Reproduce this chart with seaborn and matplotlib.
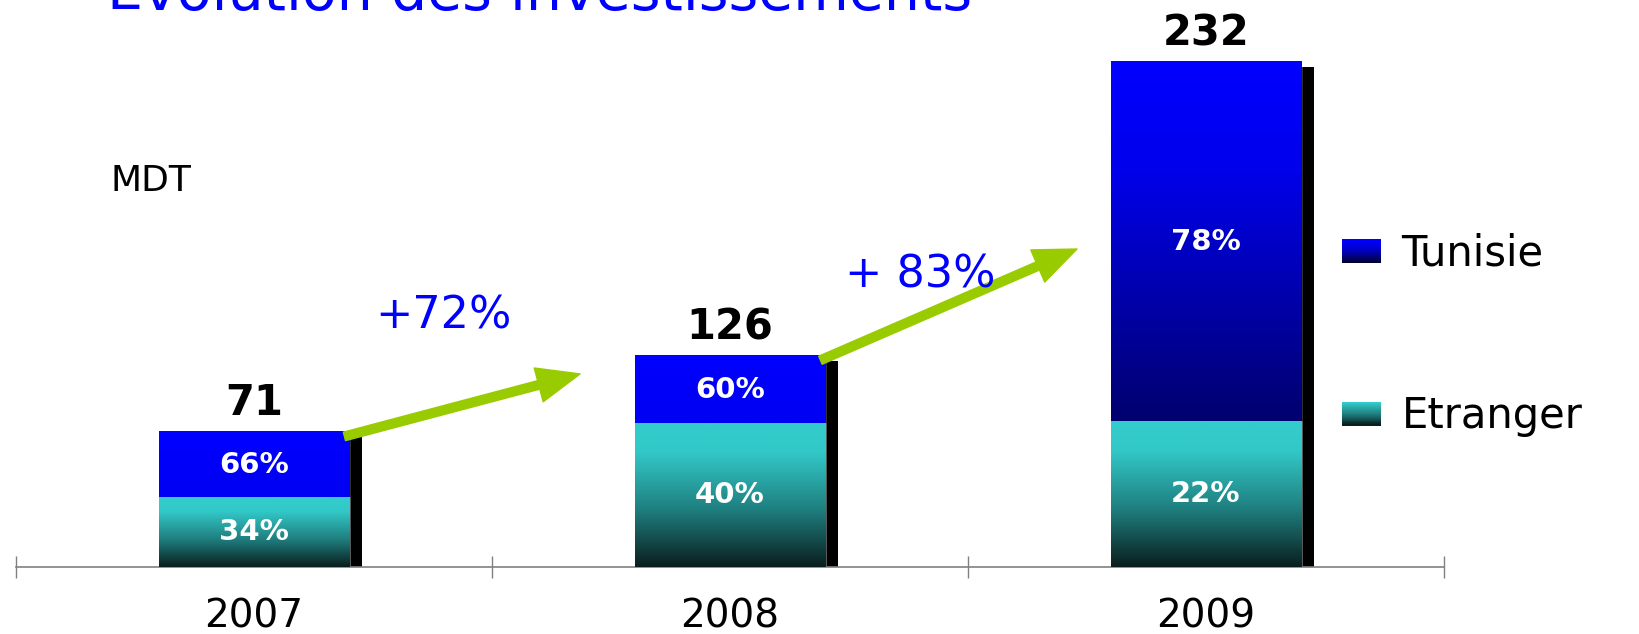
import numpy as np
import matplotlib
matplotlib.use("Agg")
import matplotlib.pyplot as plt
import matplotlib.patheffects as pe
from matplotlib.colors import LinearSegmentedColormap
from matplotlib.legend_handler import HandlerBase
from matplotlib.patches import Patch, Rectangle
import seaborn as sns

# ====================== data ======================

years = ["2007", "2008", "2009"]
total_labels = ["71", "126", "232"]
tunisie_pct = ["66%", "60%", "78%"]
etranger_pct = ["34%", "40%", "22%"]
growth_labels = ["+72%", "+ 83%"]

# the slide is not drawn to scale: heights as drawn (2009 top = 232)
etranger_h = [32, 66, 67]
tunisie_h = [30, 31, 165]
totals = [e + t for e, t in zip(etranger_h, tunisie_h)]

# ====================== style ======================

sns.set_style("white")
plt.rcParams['font.family'] = ['DejaVu Sans']

BLUE_TXT = "#0000FF"
GREEN = "#99CC00"
GREY = "#808080"

cmap_tun = LinearSegmentedColormap.from_list(
    "tun", [(0, "#0000FF"), (0.3, "#0000EB"), (1, "#00006E")])
cmap_etr = LinearSegmentedColormap.from_list(
    "etr", [(0, "#33CCCC"), (0.2, "#33C8C8"), (0.6, "#1F7F7F"), (1, "#0A1E1E")])
cmap_tun_leg = LinearSegmentedColormap.from_list("tl", ["#0000FF", "#0000C0", "#000030"])
cmap_etr_leg = LinearSegmentedColormap.from_list("el", ["#33CCCC", "#1F7F7F", "#0A1E1E"])


class GradientHandler(HandlerBase):
    def __init__(self, cmap):
        super().__init__()
        self.cmap = cmap

    def create_artists(self, legend, orig_handle, xdescent, ydescent,
                       width, height, fontsize, trans):
        n = 24
        arts = []
        for k in range(n):
            y = -ydescent + height * (1 - (k + 1) / n)
            arts.append(Rectangle((-xdescent, y), width, height / n * 1.05,
                                  facecolor=self.cmap(k / (n - 1)),
                                  edgecolor="none", antialiased=False,
                                  transform=trans))
        return arts


# ====================== figure ======================

fig = plt.figure(figsize=(16.4, 6.34), dpi=100)
ax = fig.add_axes([16 / 1640, 1 - 567 / 634, 1428 / 1640, 567 / 634])

sns.barplot(x=years, y=totals, color="#0000FF", width=0.4, saturation=1,
            ax=ax, zorder=2)
tot_bars = list(ax.patches)
sns.barplot(x=years, y=etranger_h, color="#33CCCC", width=0.4, saturation=1,
            ax=ax, zorder=2)
etr_bars = list(ax.patches[len(tot_bars):])

# black drop shadow on right side of each bar
for p in tot_bars:
    p.set_path_effects([pe.SimplePatchShadow(offset=(9, -3.6),
                                             shadow_rgbFace="black", alpha=1.0),
                        pe.Normal()])

# gradient fills
hmax = max(tunisie_h)
for i, p in enumerate(tot_bars):
    x0, w = p.get_x(), p.get_width()
    t = np.linspace(0, tunisie_h[i] / hmax, 256)[:, None]
    ax.imshow(t, extent=[x0, x0 + w, etranger_h[i], totals[i]], origin="upper",
              cmap=cmap_tun, vmin=0, vmax=1, aspect="auto",
              interpolation="bilinear", zorder=3)
for i, p in enumerate(etr_bars):
    x0, w = p.get_x(), p.get_width()
    t = np.linspace(0, 1, 256)[:, None]
    ax.imshow(t, extent=[x0, x0 + w, 0, etranger_h[i]], origin="upper",
              cmap=cmap_etr, vmin=0, vmax=1, aspect="auto",
              interpolation="bilinear", zorder=3)

# labels on / above the bars
for i in range(len(years)):
    ax.annotate(total_labels[i], (i, totals[i]), xytext=(0, 12),
                textcoords="offset points", ha="center", va="baseline",
                fontsize=30, fontweight="bold", color="black", zorder=5)
    ax.text(i, etranger_h[i] + tunisie_h[i] / 2, tunisie_pct[i], ha="center",
            va="center", fontsize=21, fontweight="bold", color="white", zorder=5)
    ax.text(i, etranger_h[i] / 2, etranger_pct[i], ha="center", va="center",
            fontsize=21, fontweight="bold", color="white", zorder=5)

# growth arrows between bars
arrow_ends = [(0.685, 88.7), (1.729, 146.1)]
growth_pos = [(0.397, 109.8), (1.399, 128.2)]
for i, lab in enumerate(growth_labels):
    ax.annotate("", xy=arrow_ends[i], xytext=(i + 0.19, totals[i] - 2),
                arrowprops=dict(arrowstyle="simple,head_length=2.2,head_width=1.8,tail_width=0.45",
                                mutation_scale=14, color=GREEN, shrinkA=0, shrinkB=0),
                zorder=4)
    ax.text(growth_pos[i][0], growth_pos[i][1], lab, ha="center", va="baseline",
            fontsize=32, color=BLUE_TXT, zorder=6)

ax.set_xlim(-0.5, 2.5)
ax.set_ylim(0, 260.5)

# axis: separators as minor ticks, year labels on major ticks
ax.set_xticks(range(len(years)))
ax.set_xticklabels(years)
ax.set_xticks([-0.5, 0.5, 1.5, 2.5], minor=True)
ax.tick_params(axis="x", which="major", bottom=True, length=0, pad=22,
               labelsize=28, labelcolor="black")
ax.tick_params(axis="x", which="minor", bottom=True, direction="inout",
               length=16.5, width=1, color=GREY)
ax.set_yticks([])
ax.set_xlabel("")
ax.set_ylabel("")
for s in ["left", "top", "right"]:
    ax.spines[s].set_visible(False)
ax.spines["bottom"].set_color(GREY)
ax.spines["bottom"].set_linewidth(1.2)
ax.set_facecolor("none")

# legend
h_tun = Patch(label="Tunisie")
h_etr = Patch(label="Etranger")
fig.legend(handles=[h_tun, h_etr], loc="center left",
           bbox_to_anchor=(1342 / 1640, 1 - 335 / 634), frameon=False,
           fontsize=30, labelcolor="black", handlelength=0.93,
           handleheight=0.5, handletextpad=0.5, labelspacing=2.9,
           borderpad=0, borderaxespad=0,
           handler_map={h_tun: GradientHandler(cmap_tun_leg),
                        h_etr: GradientHandler(cmap_etr_leg)})

# texts outside the plot
fig.text(151 / 1640, 1 - 191 / 634, "MDT", ha="center", va="baseline",
         fontsize=26, color="black")
fig.text(540 / 1640, 1 - 10 / 634, "Evolution des investissements", ha="center",
         va="baseline", fontsize=41, color=BLUE_TXT)

fig.savefig("out.png", dpi=100)
